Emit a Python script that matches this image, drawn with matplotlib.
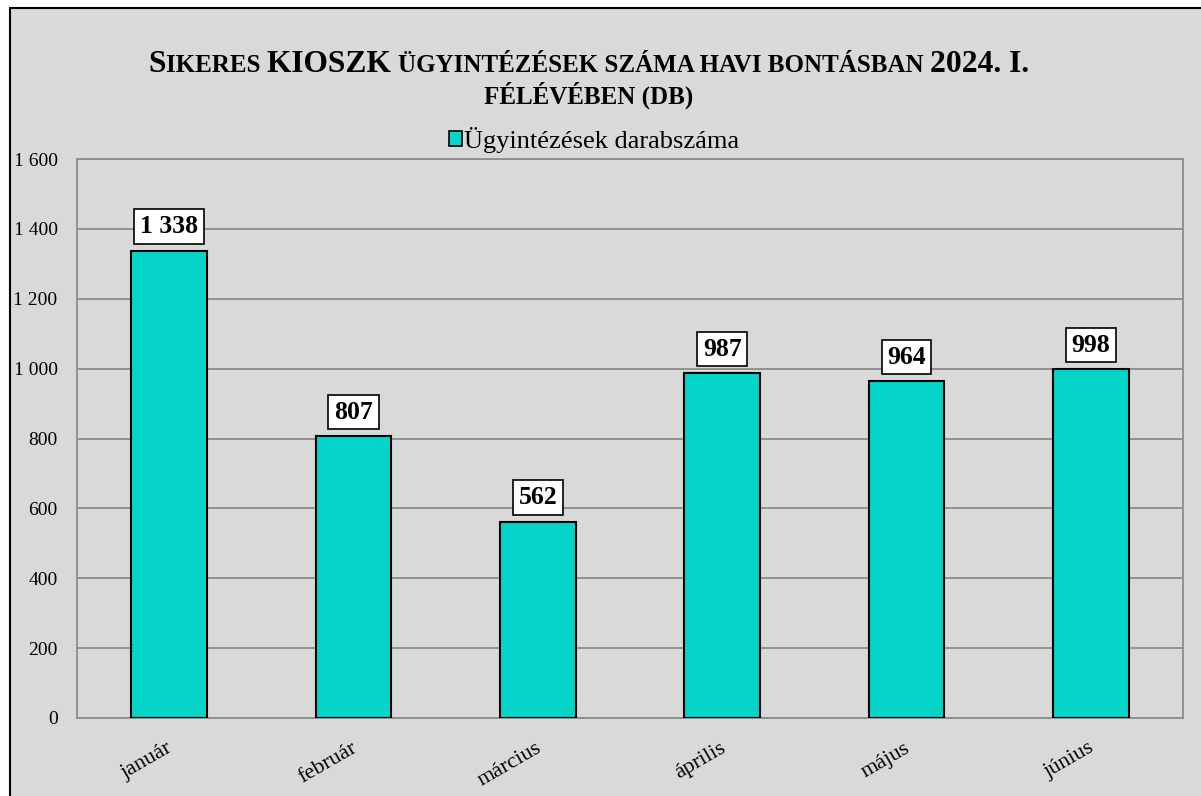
import matplotlib.pyplot as plt
import matplotlib.transforms as mtransforms
from matplotlib.patches import Rectangle, Patch
from matplotlib.ticker import FuncFormatter

# adatok
honapok = ["január", "február", "március", "április", "május", "június"]
darab = [1338, 807, 562, 987, 964, 998]
sorozat = "Ügyintézések darabszáma"

# cím darabjai (kiskapitális utánzása: nagy / kicsi betűméret)
cim_sor1 = [("S", "L"), ("IKERES ", "S"), ("KIOSZK ", "L"),
            ("ÜGYINTÉZÉSEK SZÁMA HAVI BONTÁSBAN ", "S"), ("2024. I.", "L")]
cim_sor2 = [("FÉLÉVÉBEN (DB)", "S")]

plt.rcParams["font.family"] = ["Liberation Serif", "DejaVu Serif"]

W, H = 1201, 796
fig = plt.figure(figsize=(W / 100, H / 100), dpi=100)
fig.patch.set_facecolor("white")

# külső keret, szürke háttér
fig.patches.append(Rectangle((10 / W, -0.05), 1.1, 1 - 8 / H + 0.05,
                             transform=fig.transFigure, facecolor="#d9d9d9",
                             edgecolor="black", linewidth=1.5, zorder=-10))

ax = fig.add_axes([77 / W, 1 - 718 / H, (1183 - 77) / W, (718 - 159) / H])
ax.set_zorder(1)
ax.set_facecolor("#d9d9d9")

x = list(range(len(honapok)))
bars = ax.bar(x, darab, width=0.41, color="#05d5c9", edgecolor="black",
              linewidth=1.5, zorder=3)

ax.set_ylim(0, 1600)
ax.set_xlim(-0.5, len(honapok) - 0.5)
ax.set_yticks(range(0, 1601, 200))
ax.yaxis.set_major_formatter(FuncFormatter(lambda v, p: f"{int(v):,}".replace(",", " ")))
ax.grid(axis="y", color="#8c8c8c", linewidth=1.3, zorder=0)
for s in ax.spines.values():
    s.set_color("#8c8c8c")
    s.set_linewidth(1.3)
ax.tick_params(axis="y", length=0, labelsize=14, pad=14)
ax.tick_params(axis="x", length=0, labelsize=16, pad=15)
ax.set_xticks(x)
ax.set_xticklabels(honapok, rotation=30, ha="right", rotation_mode="anchor")
eltolas = mtransforms.ScaledTranslation(-2 / 72, 0, fig.dpi_scale_trans)
for lbl in ax.get_xticklabels():
    lbl.set_transform(lbl.get_transform() + eltolas)

for b, v in zip(bars, darab):
    ax.annotate(f"{v:,}".replace(",", " "), (b.get_x() + b.get_width() / 2, v),
                xytext=(0, 9), textcoords="offset points", ha="center", va="bottom",
                fontsize=18.5, fontweight="bold",
                bbox=dict(boxstyle="square,pad=0.22", facecolor="white",
                          edgecolor="black", linewidth=1.2), zorder=5)

ax.legend(handles=[Patch(facecolor="#05d5c9", edgecolor="black", linewidth=1.2, label=sorozat)],
          loc="center", bbox_to_anchor=(594 / W, 1 - 140 / H), bbox_transform=fig.transFigure,
          frameon=False, fontsize=19, handlelength=0.5, handleheight=0.5, handletextpad=0.1,
          borderpad=0)


def cim_sor(darabok, y, cx):
    meret = {"L": 22.7, "S": 18}
    r = fig.canvas.get_renderer()
    szovegek = [fig.text(0, y, t, fontsize=meret[m], fontweight="bold", va="baseline")
                for t, m in darabok]
    szel = [s.get_window_extent(r).width for s in szovegek]
    ossz = sum(szel)
    px = cx * W - ossz / 2
    for s, w in zip(szovegek, szel):
        s.set_x(px / W)
        px += w


cim_sor(cim_sor1, 1 - 72 / H, 589 / W)
cim_sor(cim_sor2, 1 - 104 / H, 589 / W)

fig.savefig("out.png", dpi=100)
